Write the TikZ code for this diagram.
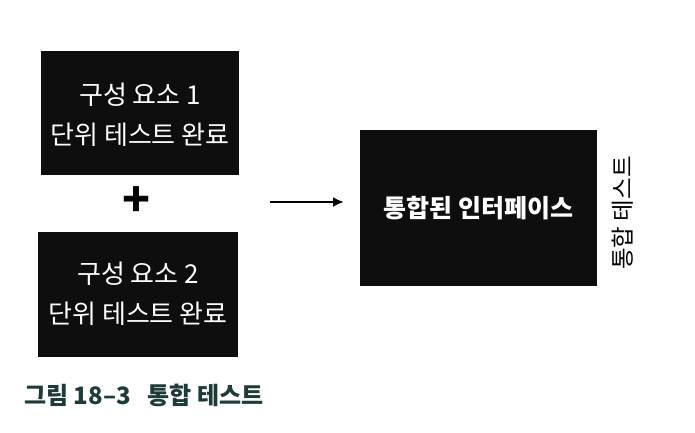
\documentclass[tikz,border=0pt]{standalone}
\usepackage{fontspec}
\setmainfont{Noto Sans CJK KR}
\usetikzlibrary{arrows.meta}
\definecolor{boxblack}{HTML}{0E0E0E}
\definecolor{captioncol}{HTML}{1F3B39}
\tikzset{
  blk/.style={fill=boxblack, draw=none, text=white, align=center, inner sep=0pt},
  lbl/.style={font=\fontsize{26}{40}\selectfont, text=white, align=center},
}
\begin{document}
\begin{tikzpicture}[x=1pt,y=-1pt]
\useasboundingbox (0,0) rectangle (695,433);
\node[blk, minimum width=198pt, minimum height=124pt] (c1) at (140,113) {};
\node[lbl] (t1) at (140,95) {구성 요소 1};
\node[lbl] (u1) at (140,135) {단위 테스트 완료};
\node[font=\fontsize{46}{46}\selectfont\bfseries, inner sep=0pt] (plus) at (137,202) {+};
\node[blk, minimum width=200pt, minimum height=125pt] (c2) at (138,294.5) {};
\node[lbl] (t2) at (138,274) {구성 요소 2};
\node[lbl] (u2) at (138,314) {단위 테스트 완료};
\coordinate (as) at (270,202);
\coordinate (ae) at (344,202);
\draw[line width=2.2pt, -{Latex[length=11pt,width=10pt]}] (as) -- (ae);
\node[blk, minimum width=237pt, minimum height=156pt, font=\fontsize{25}{25}\selectfont\bfseries] (ci) at (478.5,208) {통합된 인터페이스};
\node[rotate=90, font=\fontsize{23.5}{23.5}\selectfont, inner sep=0pt] (it) at (623,213) {통합 테스트};
\node[anchor=west, text=captioncol, font=\fontsize{24}{24}\selectfont\bfseries, inner sep=0pt] (cap) at (24,395) {그림 18–3\hspace{0.7em}통합 테스트};
\end{tikzpicture}
\end{document}
